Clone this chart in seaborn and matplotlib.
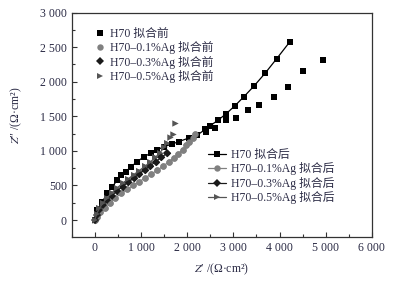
import numpy as np
import pandas as pd
import matplotlib
matplotlib.use("Agg")
import matplotlib.pyplot as plt
from matplotlib.lines import Line2D
from matplotlib.ticker import MultipleLocator, FuncFormatter
import seaborn as sns

# --- data (Z' , Z'' in ohm*cm2) ---
h70_x_pre = [0, 50, 160, 270, 380, 490, 560, 670, 780, 920, 1060, 1210, 1350, 1490, 1680,
             1820, 2030, 2220, 2400, 2600, 2850, 3050, 3320, 3550, 3880, 4190, 4500, 4930]
h70_y_pre = [0, 145, 265, 385, 485, 580, 650, 700, 770, 845, 915, 965, 1015, 1060, 1100,
             1135, 1185, 1230, 1280, 1325, 1440, 1480, 1595, 1665, 1785, 1930, 2150, 2320]
h70_x_fit = [0, 50, 160, 270, 380, 490, 560, 670, 780, 920, 1060, 1210, 1350, 1490, 1680,
             1820, 2030, 2220, 2390, 2490, 2660, 2840, 3030, 3230, 3450, 3690, 3940, 4220]
h70_y_fit = [0, 145, 265, 385, 485, 580, 650, 700, 770, 845, 915, 965, 1015, 1060, 1100,
             1135, 1185, 1230, 1310, 1360, 1440, 1535, 1650, 1785, 1940, 2125, 2335, 2575]

ag01_x = [0, 50, 120, 210, 320, 440, 570, 700, 830, 960, 1090, 1220, 1350, 1480, 1600,
          1710, 1810, 1900, 1980, 2050, 2120, 2180]
ag01_y = [0, 40, 110, 180, 250, 320, 385, 445, 500, 555, 610, 665, 720, 780, 840,
          900, 960, 1020, 1080, 1130, 1180, 1240]

ag03_x = [0, 40, 100, 180, 270, 370, 480, 600, 720, 840, 960, 1080, 1200, 1320, 1440, 1560]
ag03_y = [0, 80, 150, 220, 290, 355, 420, 485, 545, 605, 665, 725, 785, 845, 905, 965]

ag05_x = [0, 40, 100, 180, 270, 370, 480, 600, 720, 840, 960, 1080, 1200, 1310, 1410,
          1500, 1570, 1630, 1690, 1740]
ag05_y = [0, 90, 170, 250, 325, 395, 465, 530, 595, 655, 715, 775, 840, 905, 975,
          1050, 1120, 1200, 1250, 1410]

series = [
    ("H70", "s", "black", h70_x_pre, h70_y_pre, h70_x_fit, h70_y_fit),
    ("H70\u20130.1%Ag", "o", "#808080", ag01_x, ag01_y, ag01_x, ag01_y),
    ("H70\u20130.3%Ag", "D", "#1a1a1a", ag03_x, ag03_y, ag03_x, ag03_y),
    ("H70\u20130.5%Ag", ">", "#555555", ag05_x, ag05_y, ag05_x[:-3], ag05_y[:-3]),
]

sns.set_style("ticks")
plt.rcParams["font.family"] = ["Liberation Serif", "Noto Sans CJK SC"]
plt.rcParams["mathtext.fontset"] = "stix"
plt.rcParams["font.size"] = 8
txt = "#2b2b45"

fig = plt.figure(figsize=(3.94, 2.85), dpi=100)
ax = fig.add_axes([0.182, 0.1695, 0.762, 0.7865])

ms = {"s": 4.2, "o": 4.6, "D": 3.8, ">": 4.6}
for name, mk, col, xp, yp, xf, yf in series:
    sns.lineplot(x=xf, y=yf, ax=ax, color=col, lw=0.9, marker=mk, markersize=ms[mk],
                 markeredgewidth=0, sort=False, estimator=None, legend=False)
    sns.scatterplot(x=xp, y=yp, ax=ax, color=col, marker=mk, s=ms[mk] ** 2,
                    linewidth=0, legend=False)

ax.set_xlim(-500, 6000)
ax.set_ylim(-240, 3000)
ax.xaxis.set_major_locator(MultipleLocator(1000))
ax.xaxis.set_minor_locator(MultipleLocator(500))
ax.yaxis.set_major_locator(MultipleLocator(500))
ax.yaxis.set_minor_locator(MultipleLocator(250))
fmt = FuncFormatter(lambda v, p: f"{int(round(v)):,}".replace(",", " "))
ax.xaxis.set_major_formatter(fmt)
ax.yaxis.set_major_formatter(fmt)
ax.tick_params(which="both", direction="in", top=False, right=False, colors="#333333",
               labelcolor=txt, labelsize=8.5)
ax.tick_params(which="major", length=3.5, width=0.8)
ax.tick_params(which="minor", length=2.5, width=0.8)
for sp in ax.spines.values():
    sp.set_color("#333333")
    sp.set_linewidth(0.9)

ax.set_xlabel("$Z$\u2032 /(\u03a9\u00b7cm\u00b2)", color=txt, fontsize=8.5)
ax.set_ylabel("$Z$\u2033 /(\u03a9\u00b7cm\u00b2)", color=txt, fontsize=8.5)
ax.xaxis.set_label_coords(0.5, -0.11)
ax.yaxis.set_label_coords(-0.16, 0.54)

pre_handles = [Line2D([], [], ls="none", marker=mk, color=col, ms=ms[mk], mew=0)
               for _, mk, col, *_ in series]
fit_handles = [Line2D([], [], ls="-", lw=0.9, marker=mk, color=col, ms=ms[mk], mew=0)
               for _, mk, col, *_ in series]
leg1 = ax.legend(pre_handles, [s[0] + " 拟合前" for s in series], loc="upper left",
                 bbox_to_anchor=(0.08, 0.93), frameon=False, fontsize=8.5,
                 handlelength=0.8, handletextpad=0.4, labelspacing=0.1,
                 borderaxespad=0, borderpad=0)
for t in leg1.get_texts():
    t.set_color(txt)
ax.add_artist(leg1)
leg2 = ax.legend(fit_handles, [s[0] + " 拟合后" for s in series], loc="upper left",
                 bbox_to_anchor=(0.455, 0.39), frameon=False, fontsize=8.5,
                 handlelength=1.5, handletextpad=0.4, labelspacing=0.1,
                 borderaxespad=0, borderpad=0)
for t in leg2.get_texts():
    t.set_color(txt)

fig.savefig("out.png", dpi=100)
